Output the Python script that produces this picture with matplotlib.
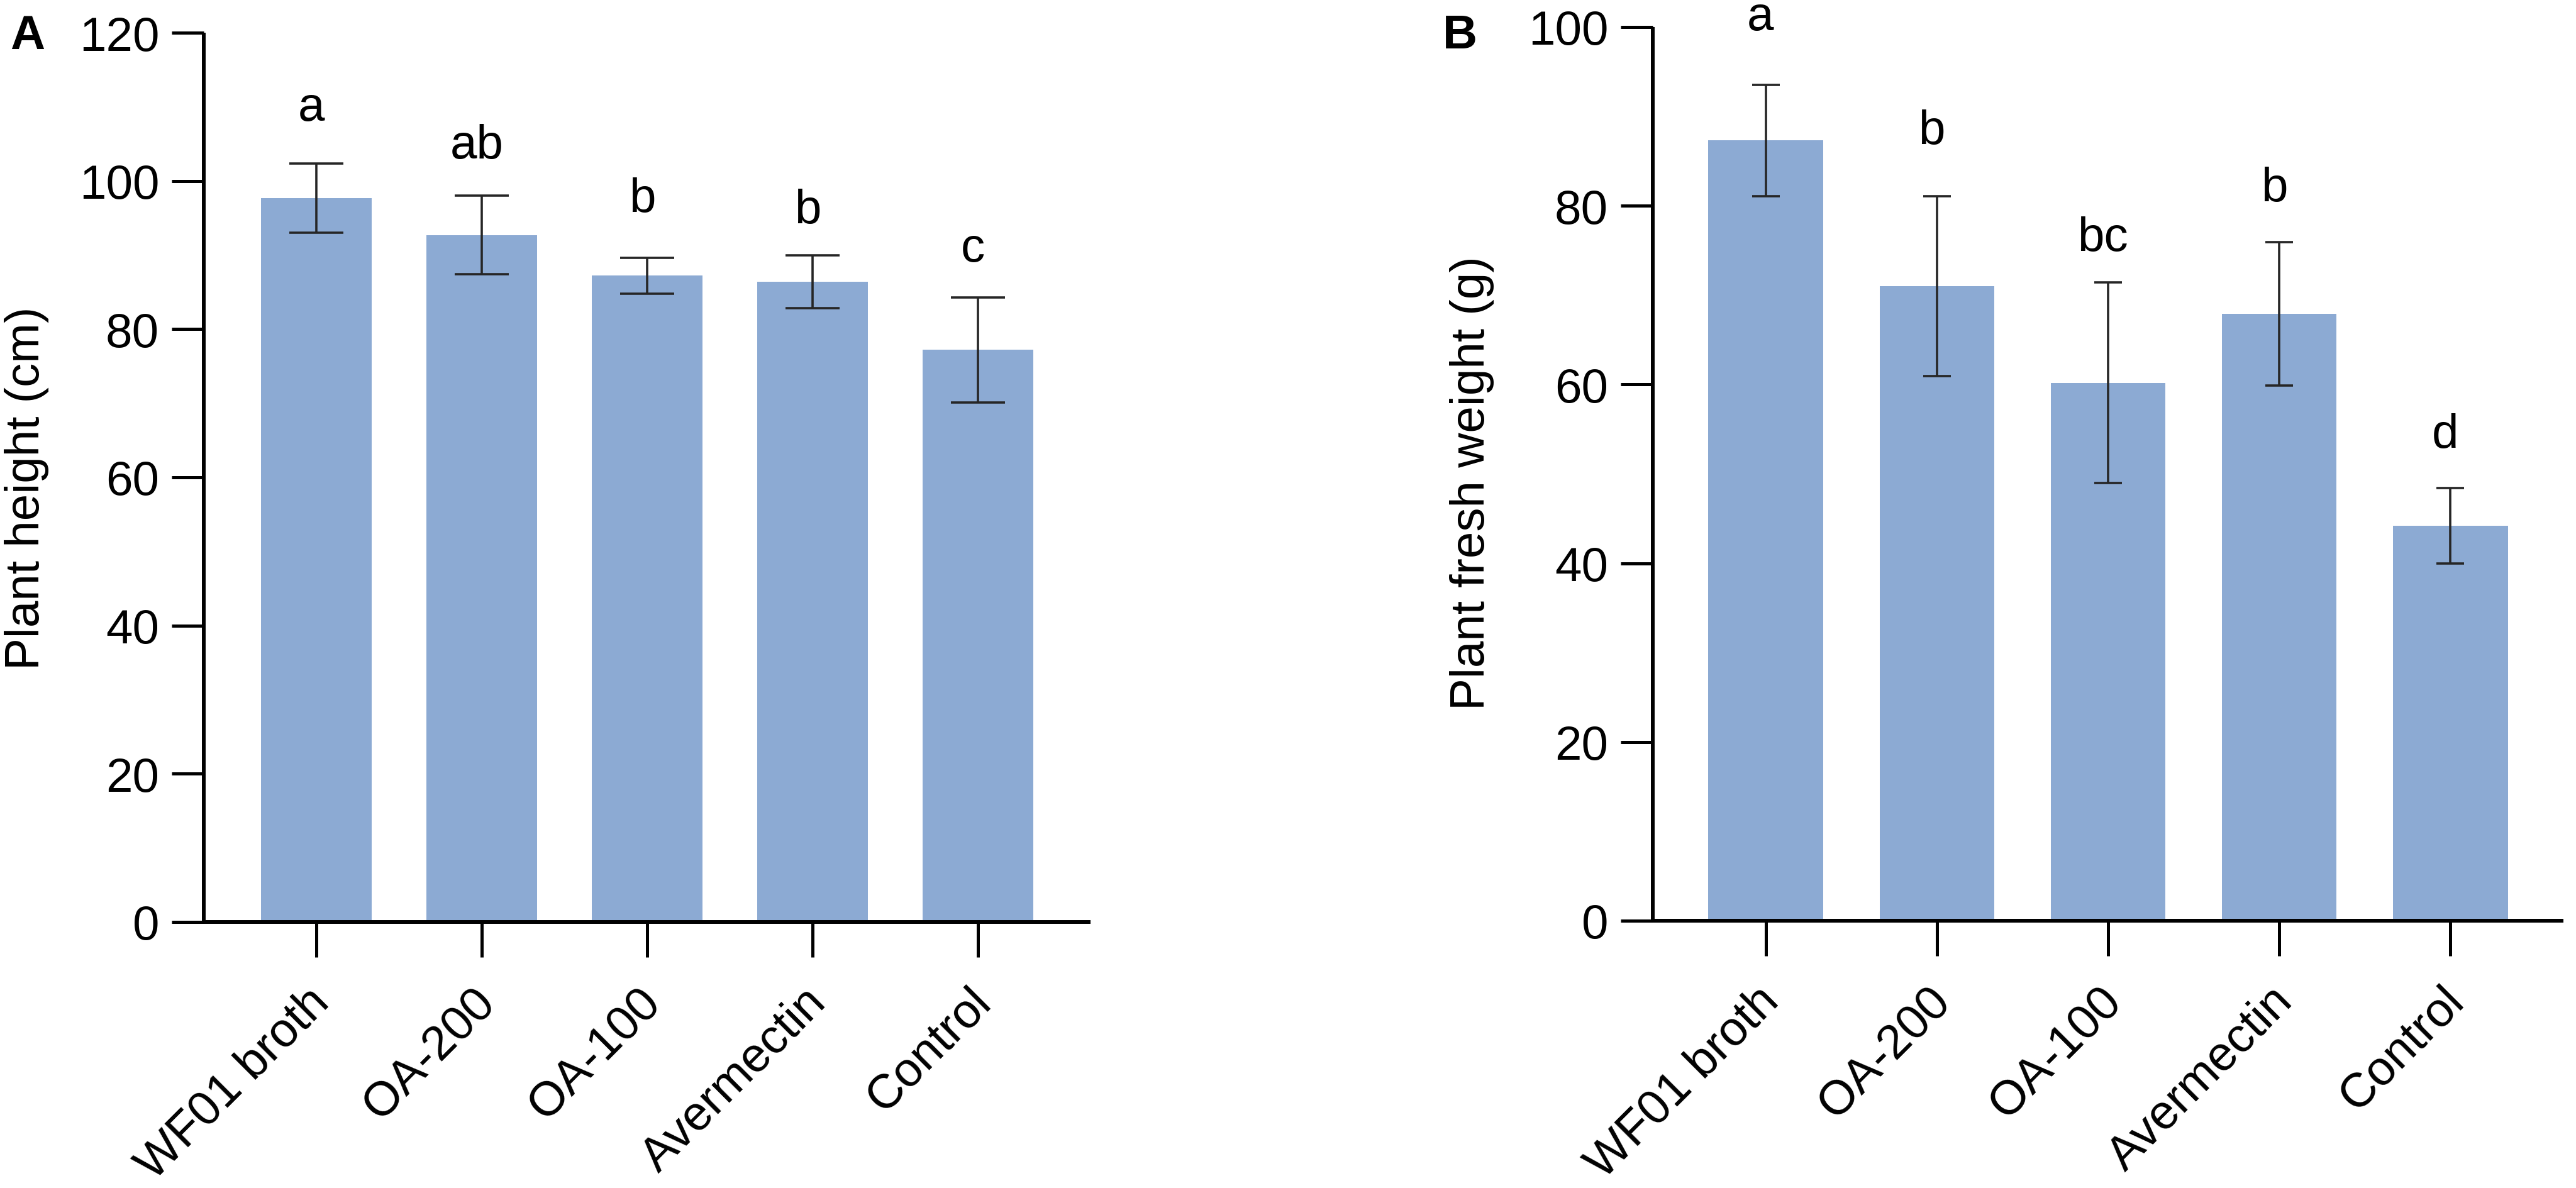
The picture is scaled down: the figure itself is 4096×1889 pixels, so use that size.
import matplotlib
matplotlib.use("Agg")
import matplotlib.pyplot as plt
import matplotlib.transforms as mtransforms
import numpy as np

# ---- data ----
categories = ['WF01 broth', 'OA-200', 'OA-100', 'Avermectin', 'Control']

height_mean = [97.7, 92.7, 87.2, 86.4, 77.2]
height_err = [4.65, 5.3, 2.45, 3.6, 7.1]
height_letters = ['a', 'ab', 'b', 'b', 'c']
height_letter_y = [108.2, 103.1, 95.9, 94.4, 89.2]
height_ticks = [0, 20, 40, 60, 80, 100, 120]

weight_mean = [87.3, 71.0, 60.2, 67.9, 44.2]
weight_err = [6.2, 10.05, 11.2, 8.0, 4.2]
weight_letters = ['a', 'b', 'bc', 'b', 'd']
weight_letter_y = [99.7, 87.0, 75.0, 80.6, 53.0]
weight_ticks = [0, 20, 40, 60, 80, 100]

# ---- style ----
plt.rcParams['font.family'] = ['Liberation Sans', 'DejaVu Sans']
FS = 55
BAR_COLOR = '#8CAAD3'
ERR_COLOR = '#262626'

W, H = 4096, 1890
fig = plt.figure(figsize=(W / 100, H / 100), dpi=100)


def px_axes(left, right, top, bottom):
    return fig.add_axes([left / W, (H - bottom) / H, (right - left) / W, (bottom - top) / H])


def draw_panel(ax, means, errs, letters, letter_y, ticks, ymax, capsize, xlim):
    x = np.arange(len(categories))
    ax.bar(x, means, width=0.67, color=BAR_COLOR, zorder=1)
    ax.errorbar(x, means, yerr=errs, fmt='none', ecolor=ERR_COLOR,
                elinewidth=2.6, capsize=capsize, capthick=2.6, zorder=2)
    for xi, lab, ly in zip(x, letters, letter_y):
        ax.text(xi - 0.03, ly, lab, ha='center', va='baseline', fontsize=FS,
                color='black', clip_on=False)
    ax.set_xlim(*xlim)
    ax.set_ylim(0, ymax)
    ax.set_yticks(ticks)
    ax.set_yticklabels([str(t) for t in ticks])
    ax.set_xticks(x)
    ax.set_xticklabels(categories, rotation=45, ha='right', va='center',
                       rotation_mode='anchor')
    for s in ['top', 'right']:
        ax.spines[s].set_visible(False)
    for s in ['left', 'bottom']:
        ax.spines[s].set_linewidth(4.3)
        ax.spines[s].set_capstyle('butt')
    ax.tick_params(axis='y', length=37, width=3.6, pad=14, labelsize=FS)
    ax.tick_params(axis='x', length=40, width=3.6, pad=44, labelsize=FS)
    offset = mtransforms.ScaledTranslation(10 / 100, 0, fig.dpi_scale_trans)
    for lab in ax.get_xticklabels():
        lab.set_transform(lab.get_transform() + offset)
    ax.minorticks_off()


# Panel A
axA = px_axes(324, 1734, 53, 1467)
draw_panel(axA, height_mean, height_err, height_letters, height_letter_y,
           height_ticks, 120, 31, (-0.68, 4.68))
# Panel B
axB = px_axes(2628, 4076, 44, 1465)
draw_panel(axB, weight_mean, weight_err, weight_letters, weight_letter_y,
           weight_ticks, 100, 16, (-0.66, 4.66))

# y labels
fig.text(43 / W, 1 - 776 / H, 'Plant height (cm)', rotation=90, ha='center',
         va='center', fontsize=FS)
fig.text(2340 / W, 1 - 768 / H, 'Plant fresh weight (g)', rotation=90, ha='center',
         va='center', fontsize=FS)

# panel letters
fig.text(16 / W, 1 - 78 / H, 'A', ha='left', va='baseline', fontsize=FS,
         fontweight='bold')
fig.text(2294 / W, 1 - 77 / H, 'B', ha='left', va='baseline', fontsize=FS,
         fontweight='bold')

fig.savefig('out.png', dpi=100, facecolor='white')
